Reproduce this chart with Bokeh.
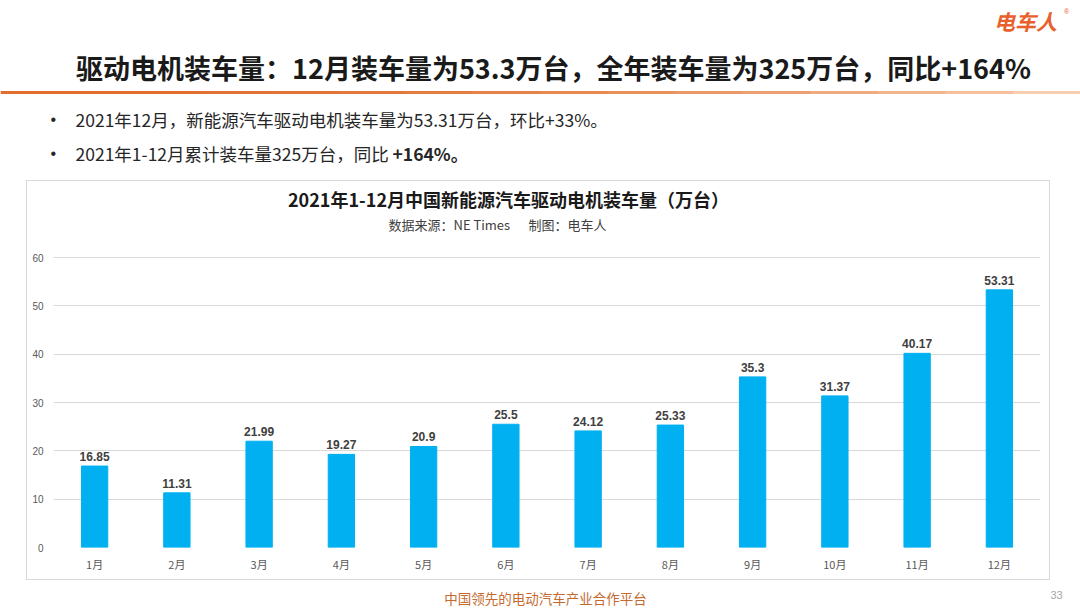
from bokeh.plotting import figure
from bokeh.models import ColumnDataSource, Label, Range1d, FactorRange, Spacer
from bokeh.layouts import column, row
from bokeh.core.properties import value
from bokeh.embed import file_html
from bokeh.resources import INLINE

# ---------------- data ----------------
months = ["1月", "2月", "3月", "4月", "5月", "6月", "7月", "8月", "9月", "10月", "11月", "12月"]
volumes = [16.85, 11.31, 21.99, 19.27, 20.9, 25.5, 24.12, 25.33, 35.3, 31.37, 40.17, 53.31]
value_labels = ["16.85", "11.31", "21.99", "19.27", "20.9", "25.5", "24.12", "25.33", "35.3", "31.37", "40.17", "53.31"]
y_ticks = [0, 10, 20, 30, 40, 50, 60]

slide_title = "驱动电机装车量：12月装车量为53.3万台，全年装车量为325万台，同比+164%"
bullet1 = "2021年12月，新能源汽车驱动电机装车量为53.31万台，环比+33%。"
bullet2_a = "2021年1-12月累计装车量325万台，同比"
bullet2_b = "+164%。"
chart_title = "2021年1-12月中国新能源汽车驱动电机装车量（万台）"
source_a = "数据来源：NE Times"
source_b = "制图：电车人"
footer = "中国领先的电动汽车产业合作平台"
page_no = "33"
logo = "电车人"

CJK = "Noto Sans CJK SC"
LAT = "Liberation Sans"

# ---------------- geometry (page pixels) ----------------
PAGE_W, PAGE_H = 1080, 608
BOX_L, BOX_T, BOX_R, BOX_B = 26, 180, 1051, 581      # chart box outer edges
PLOT_L, PLOT_R, Y0, Y60 = 53, 1040, 547, 257          # plot area

# ---------------- top band (slide header) ----------------
top_h = BOX_T
top = figure(width=PAGE_W, height=top_h, x_range=Range1d(0, PAGE_W), y_range=Range1d(top_h, 0),
             x_axis_type=None, y_axis_type=None, output_backend="svg", toolbar_location=None,
             min_border=0)
top.grid.visible = False
top.outline_line_color = None
top.background_fill_color = "white"
top.border_fill_color = "white"


def ttext(fig, x, y, txt, size, color, font=CJK, style="normal", align="left"):
    fig.text(x=[x], y=[y], text=[txt], text_font=value(font), text_font_size=size,
             text_font_style=style, text_color=color, text_align=align, text_baseline="middle")


# orange rule with a fade to the right
segs = 16
c0 = (226, 110, 44)
c1 = (247, 205, 175)
for i in range(segs):
    t = i / (segs - 1)
    col = "#%02x%02x%02x" % tuple(int(c0[k] + (c1[k] - c0[k]) * t ** 2) for k in range(3))
    top.quad(left=[i * PAGE_W / segs], right=[(i + 1) * PAGE_W / segs + 0.5],
             top=[90.5], bottom=[93.5], fill_color=col, line_color=None)

ttext(top, 1025, 20, logo, "21px", "#E8602C", style="bold italic", align="center")
ttext(top, 1066, 11, "®", "7px", "#E8602C", font=LAT, align="center")
ttext(top, 553, 67, slide_title, "27px", "#1A1A1A", style="bold", align="center")
ttext(top, 50, 119, "•", "16px", "#262626", font=LAT)
ttext(top, 50, 153, "•", "16px", "#262626", font=LAT)
ttext(top, 75, 119, bullet1, "17.5px", "#262626")
ttext(top, 75, 153, bullet2_a, "17.5px", "#262626")
ttext(top, 392, 153, bullet2_b, "17.5px", "#262626", style="bold")

# ---------------- chart box ----------------
inner_w = BOX_R - BOX_L - 1      # content width inside 1px CSS border
inner_h = BOX_B - BOX_T - 1
ox, oy = BOX_L + 1, BOX_T + 1    # canvas origin on page
FL = PLOT_L - ox
FR = PLOT_R - ox
FB = Y0 - oy
FT = 1
y_end = 60 * (FB - FT) / (Y0 - Y60)

src = ColumnDataSource(dict(month=months, vol=volumes, lbl=value_labels))
p = figure(width=inner_w, height=inner_h,
           x_range=FactorRange(*months, range_padding=0),
           y_range=Range1d(0, y_end),
           output_backend="svg", toolbar_location=None,
           min_border_left=FL, min_border_right=inner_w - FR,
           min_border_top=FT, min_border_bottom=inner_h - FB)
p.styles = {"border": "1px solid #D9D9D9"}
p.background_fill_color = "white"
p.border_fill_color = "white"
p.outline_line_color = None

p.vbar(x="month", top="vol", width=0.32, source=src, color="#00B0F0")
p.text(x="month", y="vol", text="lbl", source=src, text_align="center",
       text_baseline="bottom", y_offset=-5, text_font=value(LAT),
       text_font_style="bold", text_font_size="12px", text_color="#404040")

p.xgrid.grid_line_color = None
p.ygrid.grid_line_color = "#D9D9D9"
p.ygrid.grid_line_width = 1
p.yaxis.ticker = y_ticks
for ax in (p.xaxis[0], p.yaxis[0]):
    ax.axis_line_color = None
    ax.major_tick_line_color = None
    ax.minor_tick_line_color = None
    ax.major_tick_in = 0
    ax.major_tick_out = 0
    ax.minor_tick_out = 0
    ax.major_label_text_color = "#595959"
p.yaxis.major_label_text_font = LAT
p.yaxis.major_label_text_font_size = "10px"
p.yaxis.major_label_standoff = 10
p.xaxis.major_label_text_font = CJK
p.xaxis.major_label_text_font_size = "11px"
p.xaxis.major_label_standoff = 8


def plabel(X, Y, txt, size, color, font=CJK, style="normal", align="left"):
    p.add_layout(Label(x=X - PLOT_L, y=Y0 - Y, x_units="screen", y_units="screen", text=txt,
                       text_font=font, text_font_size=size, text_font_style=style,
                       text_color=color, text_align=align, text_baseline="middle"))


plabel(508, 198, chart_title, "18px", "#1A1A1A", style="bold", align="center")
plabel(388, 224, source_a, "13px", "#404040")
plabel(528, 224, source_b, "13px", "#404040")

mid = row(Spacer(width=BOX_L, height=BOX_B - BOX_T + 1), p,
          Spacer(width=PAGE_W - BOX_R - 1, height=BOX_B - BOX_T + 1), spacing=0)

# ---------------- bottom band ----------------
bot_y0 = BOX_B + 1
bot_h = PAGE_H - bot_y0
bot = figure(width=PAGE_W, height=bot_h, x_range=Range1d(0, PAGE_W),
             y_range=Range1d(PAGE_H, bot_y0),
             x_axis_type=None, y_axis_type=None, output_backend="svg", toolbar_location=None,
             min_border=0)
bot.grid.visible = False
bot.outline_line_color = None
bot.background_fill_color = "white"
bot.border_fill_color = "white"
ttext(bot, 545, 597, footer, "13.5px", "#C46A2E", align="center")
ttext(bot, 1056, 594, page_no, "11px", "#A6A6A6", font=LAT, align="center")

page = column(top, mid, bot, spacing=0)
open("out.html", "w").write(file_html(page, INLINE))
